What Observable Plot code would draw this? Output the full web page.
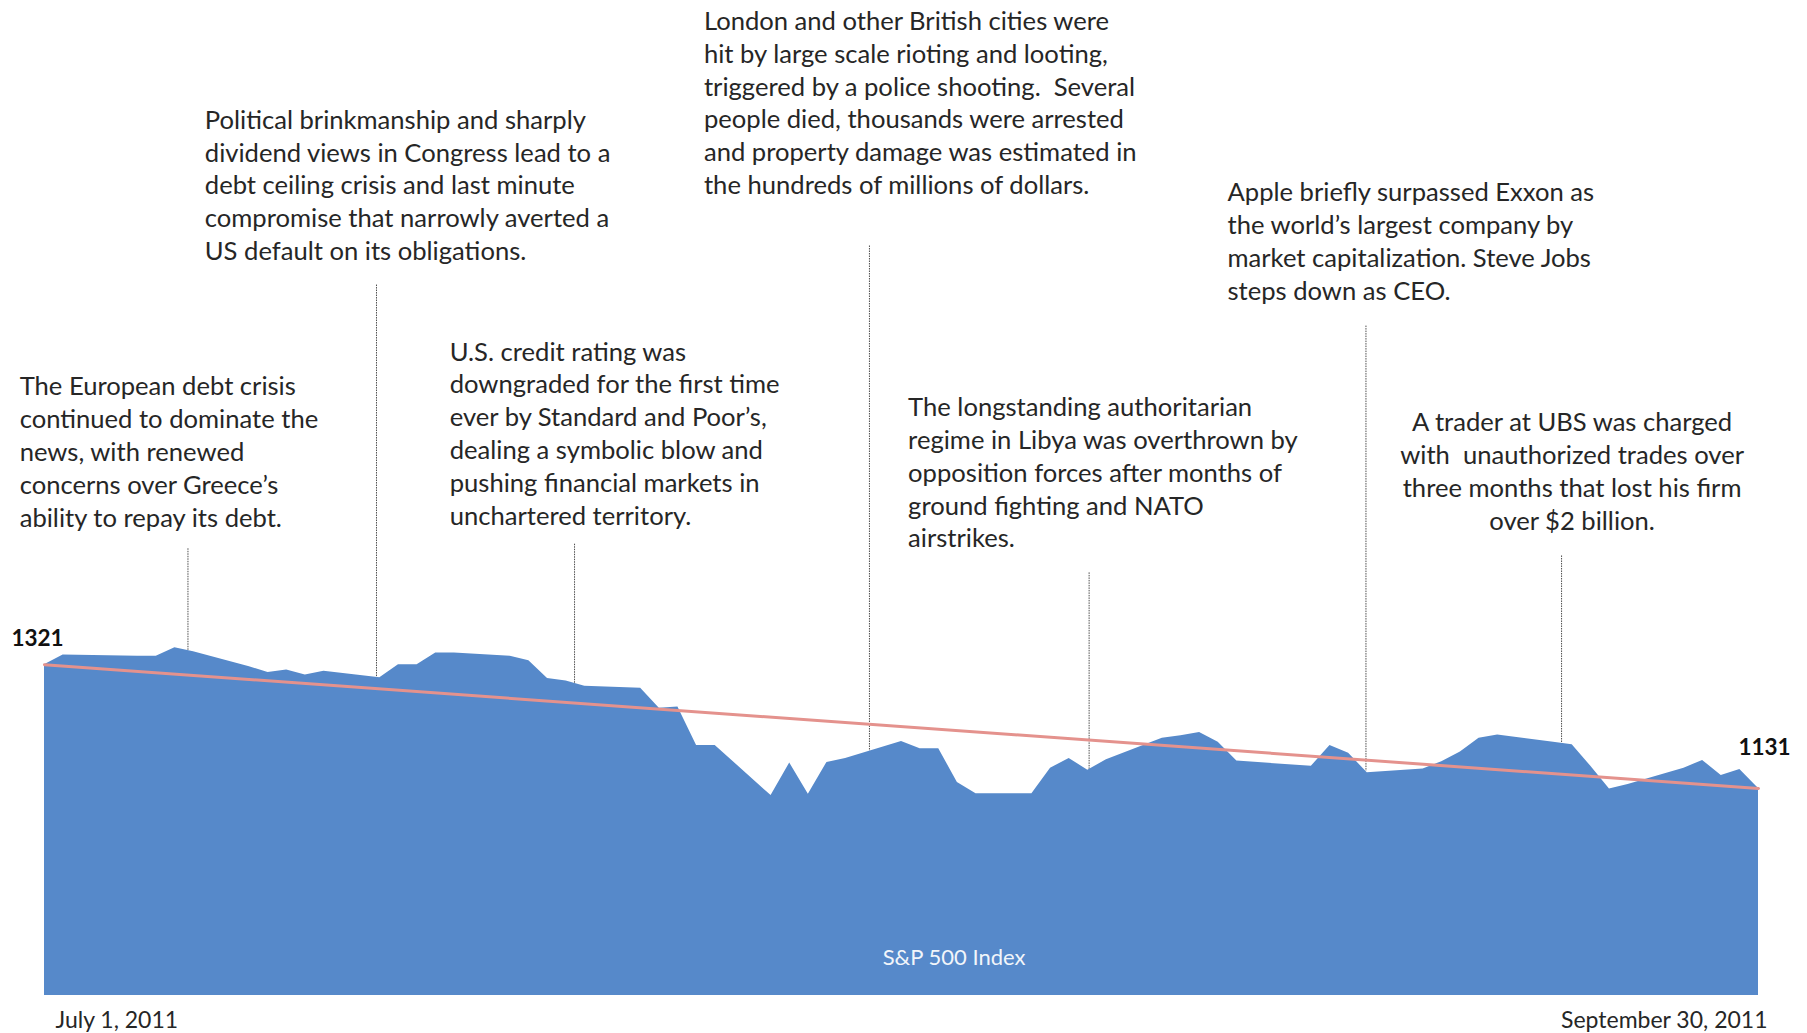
<!DOCTYPE html>
<html>
<head>
<meta charset="utf-8">
<script src="https://cdn.jsdelivr.net/npm/d3@7"></script>
<script src="https://cdn.jsdelivr.net/npm/@observablehq/plot@0.6"></script>
<style>
  html, body { margin: 0; padding: 0; background: #ffffff; }
  #chart svg text { white-space: pre; }
</style>
</head>
<body>
<div id="chart"></div>
<script>
// ---- Series: S&P 500 daily close ----
const dates = [
  "2011-06-30","2011-07-01","2011-07-05","2011-07-06","2011-07-07","2011-07-08",
  "2011-07-11","2011-07-12","2011-07-13","2011-07-14","2011-07-15",
  "2011-07-18","2011-07-19","2011-07-20","2011-07-21","2011-07-22",
  "2011-07-25","2011-07-26","2011-07-27","2011-07-28","2011-07-29",
  "2011-08-01","2011-08-02","2011-08-03","2011-08-04","2011-08-05",
  "2011-08-08","2011-08-09","2011-08-10","2011-08-11","2011-08-12",
  "2011-08-15","2011-08-16","2011-08-17","2011-08-18","2011-08-19",
  "2011-08-22","2011-08-23","2011-08-24","2011-08-25","2011-08-26",
  "2011-08-29","2011-08-30","2011-08-31","2011-09-01","2011-09-02",
  "2011-09-06","2011-09-07","2011-09-08","2011-09-09",
  "2011-09-12","2011-09-13","2011-09-14","2011-09-15","2011-09-16",
  "2011-09-19","2011-09-20","2011-09-21","2011-09-22","2011-09-23",
  "2011-09-26","2011-09-27","2011-09-28","2011-09-29","2011-09-30"
];
const closes = [
  1321, 1336, 1334, 1334, 1347, 1341,
  1318, 1309, 1313, 1305, 1311,
  1301, 1321, 1321, 1339, 1339,
  1334, 1327, 1300, 1296, 1288,
  1285, 1254, 1256, 1197, 1197,
  1120, 1170, 1122, 1171, 1177,
  1203, 1192, 1192, 1140, 1123,
  1123, 1162, 1177, 1159, 1175,
  1208, 1212, 1217, 1202, 1173,
  1165, 1197, 1185, 1155,
  1161, 1172, 1187, 1208, 1213,
  1202, 1198, 1165, 1130, 1137,
  1162, 1174, 1151, 1160, 1131
];

// ---- Text labels ----
const seriesName = "S&P 500 Index";
const startLabel = "July 1, 2011";
const endLabel = "September 30, 2011";

// ---- Event annotations ----
const eventTexts = [
  "The European debt crisis\ncontinued to dominate the\nnews, with renewed\nconcerns over Greece’s\nability to repay its debt.",
  "Political brinkmanship and sharply\ndividend views in Congress lead to a\ndebt ceiling crisis and last minute\ncompromise that narrowly averted a\nUS default on its obligations.",
  "U.S. credit rating was\ndowngraded for the first time\never by Standard and Poor’s,\ndealing a symbolic blow and\npushing financial markets in\nunchartered territory.",
  "London and other British cities were\nhit by large scale rioting and looting,\ntriggered by a police shooting.  Several\npeople died, thousands were arrested\nand property damage was estimated in\nthe hundreds of millions of dollars.",
  "The longstanding authoritarian\nregime in Libya was overthrown by\nopposition forces after months of\nground fighting and NATO\nairstrikes.",
  "Apple briefly surpassed Exxon as\nthe world’s largest company by\nmarket capitalization. Steve Jobs\nsteps down as CEO.",
  "A trader at UBS was charged\nwith  unauthorized trades over\nthree months that lost his firm\nover $2 billion."
];
// where each text block sits (date, index level of its first line)
const eventTextDates = [
  "2011-06-28T16:00Z","2011-07-08T14:30Z","2011-07-21T18:00Z","2011-08-04T09:30Z",
  "2011-08-15T08:30Z","2011-09-01T12:00Z","2011-09-19T23:50Z"
];
const eventTextLevels = [1771, 2180, 1824, 2332, 1739, 2069, 1715];
const eventTextAlign = ["start","start","start","start","start","start","middle"];
// leader lines: date they point at, and index level where they start
const leaderDates = [
  "2011-07-07T16:48Z","2011-07-17T19:41Z","2011-07-28T10:48Z","2011-08-13T06:43Z",
  "2011-08-25T01:41Z","2011-09-08T22:19Z","2011-09-19T10:19Z"
];
const leaderLevels = [1499, 1904, 1506, 1964, 1462, 1841, 1488];

// ---- Scale settings ----
const yBase = 813;
const yTop = 2341;

// ---- Build tables ----
const series = dates.map((d, i) => ({date: new Date(d + "T00:00Z"), close: closes[i]}));
const first = series[0], last = series[series.length - 1];
const bis = d3.bisector(d => d.date).left;
function valueAt(t) {
  const i = Math.max(1, Math.min(series.length - 1, bis(series, t)));
  const a = series[i - 1], b = series[i];
  const f = (t - a.date) / (b.date - a.date);
  return a.close + f * (b.close - a.close);
}
const events = eventTexts.map((text, i) => ({
  text, date: new Date(eventTextDates[i]), level: eventTextLevels[i], align: eventTextAlign[i]
}));
const leaders = leaderDates.map((d, i) => {
  const t = new Date(d);
  return {date: t, top: leaderLevels[i], bottom: valueAt(t)};
});

const font = "Lato, 'Open Sans', sans-serif";
const textFill = "#262626";
const fs = 25.6;
const lh = 32.9 / fs;

const chart = Plot.plot({
  width: 1807,
  height: 1033,
  marginLeft: 44,
  marginRight: 49,
  marginTop: 0,
  marginBottom: 38,
  style: {fontFamily: font, background: "#ffffff", overflow: "visible"},
  x: {type: "utc", domain: [first.date, last.date], axis: null},
  y: {domain: [yBase, yTop], axis: null},
  marks: [
    Plot.ruleX(leaders, {x: "date", y1: "top", y2: "bottom", stroke: "#4d4d4d", strokeWidth: 1, strokeDasharray: "1.5,1"}),
    Plot.areaY(series, {x: "date", y1: yBase, y2: "close", fill: "#5689CA", curve: "linear"}),
    Plot.line([first, last], {x: "date", y: "close", stroke: "#E4928D", strokeWidth: 3}),
    Plot.text(events.filter(e => e.align === "start"), {
      x: "date", y: "level", text: "text", textAnchor: "start", lineAnchor: "top",
      fontSize: fs, lineHeight: lh, fill: textFill
    }),
    Plot.text(events.filter(e => e.align === "middle"), {
      x: "date", y: "level", text: "text", textAnchor: "middle", lineAnchor: "top",
      fontSize: fs, lineHeight: lh, fill: textFill
    }),
    Plot.text([first], {x: "date", y: "close", text: d => String(Math.round(d.close)), dx: -7, dy: -26,
      fontSize: 22.5, fontWeight: "bold", fill: "#111"}),
    Plot.text([last], {x: "date", y: "close", text: d => String(Math.round(d.close)), dx: 6, dy: -41,
      fontSize: 22.5, fontWeight: "bold", fill: "#111"}),
    Plot.text([seriesName], {x: new Date("2011-08-17T19:40Z"), y: 870, text: d => d, fill: "#ffffff",
      fontSize: 22, opacity: 0.92}),
    Plot.text([startLabel], {x: first.date, frameAnchor: "bottom", text: d => d, textAnchor: "start",
      dx: 11, dy: 32, fontSize: 23, fill: textFill}),
    Plot.text([endLabel], {x: last.date, frameAnchor: "bottom", text: d => d, textAnchor: "end",
      dx: 9, dy: 32, fontSize: 23, fill: textFill})
  ]
});
document.getElementById("chart").appendChild(chart);
</script>
</body>
</html>
